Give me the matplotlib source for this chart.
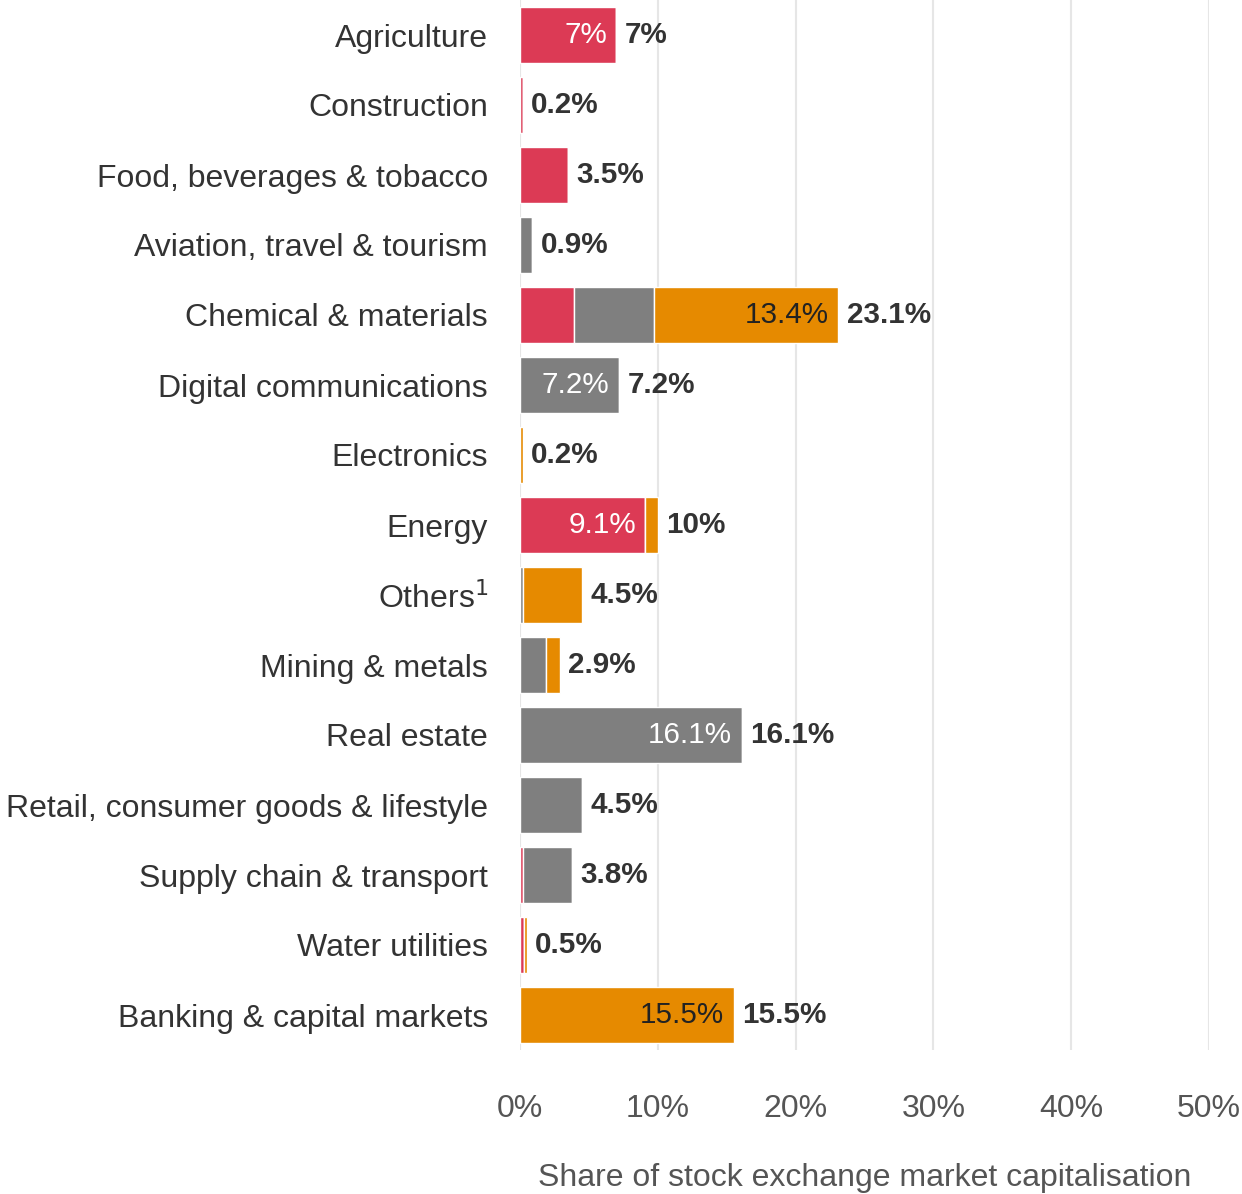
import matplotlib
matplotlib.use("Agg")
import matplotlib.pyplot as plt
import numpy as np

plt.rcParams['font.family'] = ['Liberation Sans', 'DejaVu Sans']

categories = [
    "Agriculture", "Construction", "Food, beverages & tobacco",
    "Aviation, travel & tourism", "Chemical & materials",
    "Digital communications", "Electronics", "Energy", "Others$^{1}$",
    "Mining & metals", "Real estate", "Retail, consumer goods & lifestyle",
    "Supply chain & transport", "Water utilities", "Banking & capital markets",
]
red_values = [7.0, 0.2, 3.5, 0.0, 3.9, 0.0, 0.0, 9.1, 0.0, 0.0, 0.0, 0.0, 0.2, 0.3, 0.0]
grey_values = [0.0, 0.0, 0.0, 0.9, 5.8, 7.2, 0.0, 0.0, 0.2, 1.9, 16.1, 4.5, 3.6, 0.0, 0.0]
orange_values = [0.0, 0.0, 0.0, 0.0, 13.4, 0.0, 0.2, 0.9, 4.3, 1.0, 0.0, 0.0, 0.0, 0.2, 15.5]
totals = [7.0, 0.2, 3.5, 0.9, 23.1, 7.2, 0.2, 10.0, 4.5, 2.9, 16.1, 4.5, 3.8, 0.5, 15.5]
xticks = [0, 10, 20, 30, 40, 50]

RED = "#dc3a55"
GREY = "#7f7f7f"
ORANGE = "#e68a00"


def fmt(v):
    return f"{v:g}%"


fig = plt.figure(figsize=(12.42, 11.94), dpi=100)
ax = fig.add_axes([520 / 1242, 1 - 1050 / 1194, 689 / 1242, 1050 / 1194])

y = np.arange(len(categories))
series = [
    (red_values, RED, "white"),
    (grey_values, GREY, "white"),
    (orange_values, ORANGE, "#222222"),
]
left = np.zeros(len(categories))
for vals, color, txt_color in series:
    vals = np.array(vals)
    ax.barh(y, vals, left=left, height=0.8, color=color,
            edgecolor="white", linewidth=1.0, zorder=3)
    for i, v in enumerate(vals):
        if v >= 6.5:
            ax.text(left[i] + v - 0.7, y[i], fmt(v), ha="right",
                    va="center", fontsize=21.3, color=txt_color,
                    zorder=4)
    left = left + vals

for i, t in enumerate(totals):
    ax.text(t + 0.6, y[i], fmt(t), ha="left", va="center",
            fontsize=21.3, fontweight="bold", color="#333333", zorder=4)

ax.set_xlim(0, 50)
ax.set_ylim(len(categories) - 0.5, -0.5)
ax.set_xticks(xticks)
ax.set_xticklabels([f"{x}%" for x in xticks], fontsize=23, color="#555555")
ax.set_yticks(y)
ax.set_yticklabels(categories, fontsize=23, color="#333333")
ax.tick_params(axis="both", length=0)
ax.tick_params(axis="x", pad=32)
ax.tick_params(axis="y", pad=23)
ax.grid(axis="x", color="#e6e6e6", linewidth=1.5, zorder=0)
ax.grid(axis="y", visible=False)
for s in ax.spines.values():
    s.set_visible(False)
ax.set_xlabel("Share of stock exchange market capitalisation", fontsize=23,
              color="#555555", labelpad=28)

fig.savefig("out.png", dpi=100, facecolor="white")
